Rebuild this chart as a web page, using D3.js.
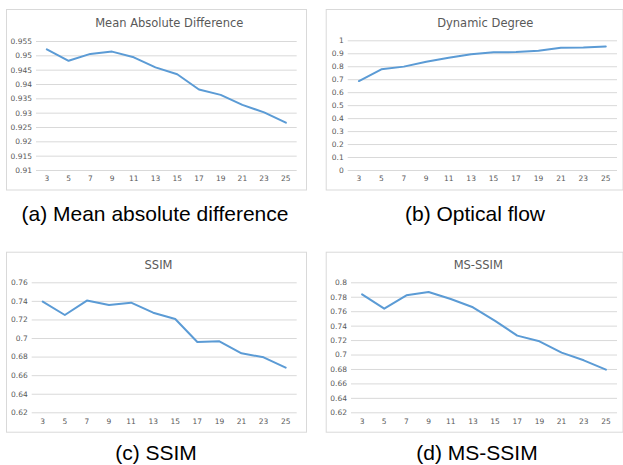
<!DOCTYPE html>
<html>
<head>
<meta charset="utf-8">
<script src="https://cdn.jsdelivr.net/npm/d3@7"></script>
<style>
  html, body { margin: 0; padding: 0; background: #ffffff; }
  svg { display: block; }
</style>
</head>
<body>
<svg id="chart" width="623" height="465"></svg>
<script>
// ---------- data ----------
const categories = [3, 5, 7, 9, 11, 13, 15, 17, 19, 21, 23, 25];

const madValues   = [0.9521, 0.9481, 0.9505, 0.9513, 0.9493, 0.9458, 0.9434, 0.9381, 0.9362, 0.9327, 0.9301, 0.9265];
const flowValues  = [0.686, 0.776, 0.797, 0.835, 0.866, 0.893, 0.908, 0.909, 0.919, 0.942, 0.945, 0.952];
const ssimValues  = [0.7392, 0.7248, 0.7403, 0.7356, 0.7381, 0.7273, 0.7205, 0.6957, 0.6964, 0.6835, 0.6792, 0.6681];
const msssimValues= [0.7834, 0.7635, 0.7820, 0.7866, 0.7769, 0.7654, 0.7465, 0.7262, 0.7183, 0.7026, 0.6920, 0.6791];

const madTicks    = [0.91, 0.915, 0.92, 0.925, 0.93, 0.935, 0.94, 0.945, 0.95, 0.955];
const flowTicks   = [0, 0.1, 0.2, 0.3, 0.4, 0.5, 0.6, 0.7, 0.8, 0.9, 1];
const ssimTicks   = [0.62, 0.64, 0.66, 0.68, 0.7, 0.72, 0.74, 0.76];
const msssimTicks = [0.62, 0.64, 0.66, 0.68, 0.7, 0.72, 0.74, 0.76, 0.78, 0.8];

const chartTitles = ["Mean Absolute Difference", "Dynamic Degree", "SSIM", "MS-SSIM"];
const captions    = ["(a) Mean absolute difference", "(b) Optical flow", "(c) SSIM", "(d) MS-SSIM"];

// ---------- layout ----------
const panels = [
  { values: madValues,    ticks: madTicks,    title: chartTitles[0], caption: captions[0],
    box: [6, 9, 306, 189.5], plotX: [36, 296.7], plotY: [170, 41], titleX: 169.3, titleY: 27, capX: 155, capY: 220.5 },
  { values: flowValues,   ticks: flowTicks,   title: chartTitles[1], caption: captions[1],
    box: [325.7, 9, 622.5, 189.5], plotX: [347.7, 617], plotY: [170, 40.3], titleX: 485.3, titleY: 27, capX: 475, capY: 220.5 },
  { values: ssimValues,   ticks: ssimTicks,   title: chartTitles[2], caption: captions[2],
    box: [6, 251.7, 306, 431.7], plotX: [31.7, 296.7], plotY: [412.3, 282.3], titleX: 158.5, titleY: 269, capX: 156, capY: 460 },
  { values: msssimValues, ticks: msssimTicks, title: chartTitles[3], caption: captions[3],
    box: [325.7, 251.7, 622.5, 431.7], plotX: [351, 617], plotY: [412.3, 282.3], titleX: 478.3, titleY: 269, capX: 477, capY: 460 }
];

const svg = d3.select("#chart");
const gridColor = "#d9d9d9";
const textColor = "#595959";
const lineColor = "#5b9bd5";
const fmt = d3.format("~g");

panels.forEach(p => {
  const g = svg.append("g");
  const [bx0, by0, bx1, by1] = p.box;

  g.append("rect")
    .attr("x", bx0 + 0.5).attr("y", by0 + 0.5)
    .attr("width", bx1 - bx0).attr("height", by1 - by0)
    .attr("fill", "#fff").attr("stroke", gridColor).attr("stroke-width", 1);

  const x = d3.scaleBand().domain(categories).range(p.plotX).padding(0);
  const y = d3.scaleLinear().domain(d3.extent(p.ticks)).range(p.plotY);

  // y axis with gridlines
  const yAxis = d3.axisLeft(y).tickValues(p.ticks).tickFormat(fmt)
    .tickSize(-(p.plotX[1] - p.plotX[0])).tickPadding(4);
  const ya = g.append("g").attr("transform", `translate(${p.plotX[0]},0)`).call(yAxis);
  ya.select(".domain").remove();
  ya.selectAll(".tick line").attr("stroke", gridColor).attr("stroke-width", 1);
  ya.selectAll(".tick text").attr("fill", textColor)
    .style("font-family", "'DejaVu Sans', sans-serif").style("font-size", "7.5px");

  // x axis labels
  const xAxis = d3.axisBottom(x).tickSize(0).tickPadding(6);
  const xa = g.append("g").attr("transform", `translate(0,${p.plotY[0]})`).call(xAxis);
  xa.select(".domain").remove();
  xa.selectAll(".tick text").attr("fill", textColor)
    .style("font-family", "'DejaVu Sans', sans-serif").style("font-size", "7.5px");

  // line
  const line = d3.line()
    .x((d, i) => x(categories[i]) + x.bandwidth() / 2)
    .y(d => y(d));
  g.append("path").datum(p.values)
    .attr("d", line).attr("fill", "none")
    .attr("stroke", lineColor).attr("stroke-width", 2)
    .attr("stroke-linejoin", "round").attr("stroke-linecap", "round");

  // chart title
  g.append("text").attr("x", p.titleX).attr("y", p.titleY)
    .attr("text-anchor", "middle").attr("fill", textColor)
    .style("font-family", "'DejaVu Sans', sans-serif").style("font-size", "11.5px")
    .text(p.title);

  // caption
  svg.append("text").attr("x", p.capX).attr("y", p.capY)
    .attr("text-anchor", "middle").attr("fill", "#000")
    .style("font-family", "'Liberation Sans', Arial, sans-serif").style("font-size", "21px")
    .text(p.caption);
});
</script>
</body>
</html>
